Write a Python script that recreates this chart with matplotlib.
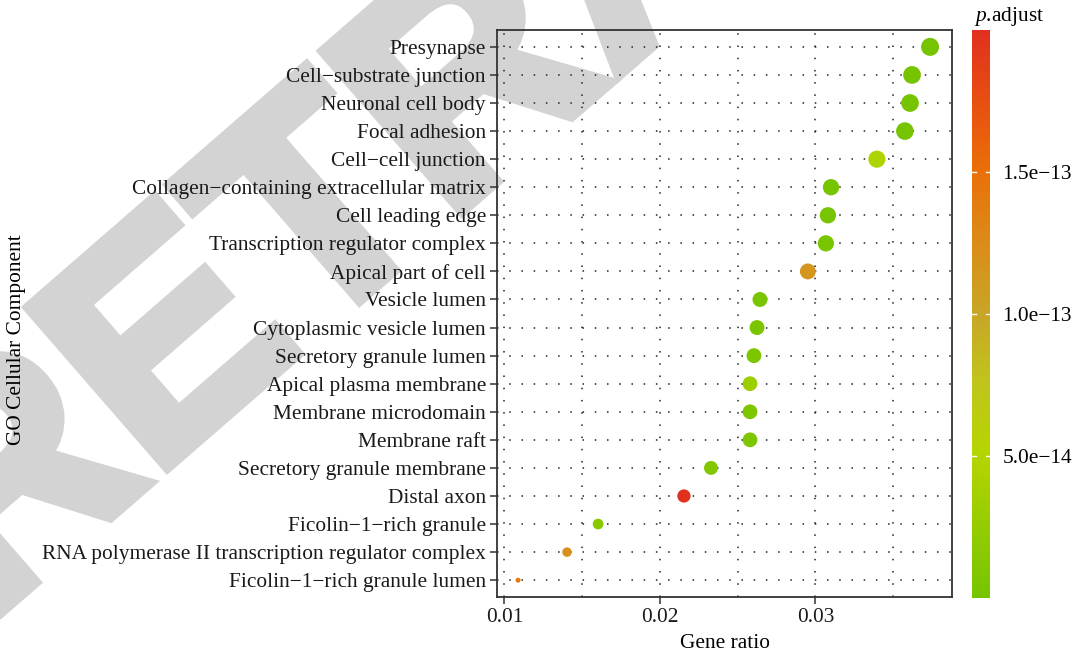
import numpy as np
import matplotlib
matplotlib.use('Agg')
import matplotlib.pyplot as plt
import matplotlib.patheffects as pe
from matplotlib.colors import LinearSegmentedColormap, Normalize

# GO cellular component terms, top to bottom
terms = [
    'Presynapse', 'Cell\u2212substrate junction', 'Neuronal cell body',
    'Focal adhesion', 'Cell\u2212cell junction',
    'Collagen\u2212containing extracellular matrix', 'Cell leading edge',
    'Transcription regulator complex', 'Apical part of cell',
    'Vesicle lumen', 'Cytoplasmic vesicle lumen', 'Secretory granule lumen',
    'Apical plasma membrane', 'Membrane microdomain', 'Membrane raft',
    'Secretory granule membrane', 'Distal axon', 'Ficolin\u22121\u2212rich granule',
    'RNA polymerase II transcription regulator complex',
    'Ficolin\u22121\u2212rich granule lumen',
]
gene_ratio = [0.03738, 0.03622, 0.03609, 0.03576, 0.03396, 0.03101, 0.03081,
              0.03068, 0.02952, 0.02644, 0.02625, 0.02605, 0.02580, 0.02580,
              0.02580, 0.02329, 0.02155, 0.01603, 0.01403, 0.01088]
p_adjust = [2e-17, 1e-16, 5e-17, 3e-16, 4.4e-14, 4e-16, 1e-15, 2e-15, 1.15e-13,
            3e-15, 4e-15, 5e-15, 3.2e-14, 6e-15, 7e-15, 1.0e-14, 1.99e-13,
            1.5e-14, 1.2e-13, 1.4e-13]
cbar_ticks = [5e-14, 1e-13, 1.5e-13]
cbar_labels = ['5.0e\u221214', '1.0e\u221213', '1.5e\u221213']

plt.rcParams['font.family'] = ['Liberation Serif', 'DejaVu Serif']
plt.rcParams['mathtext.fontset'] = 'custom'
plt.rcParams['mathtext.it'] = 'Liberation Serif:italic'
plt.rcParams['mathtext.rm'] = 'Liberation Serif'

cmap = LinearSegmentedColormap.from_list('padj', [
    (0.0, '#76c400'), (0.257, '#b6d500'), (0.38, '#c0c41c'),
    (0.5, '#c8a526'), (0.61, '#d98f1a'), (0.75, '#ea7008'),
    (0.87, '#e85010'), (1.0, '#e0301e')])
norm = Normalize(vmin=0, vmax=2.0e-13)

dpi = 100
fs = 15.4
fig = plt.figure(figsize=(10.74, 6.63), dpi=dpi)
ax = fig.add_axes([0.4628, 0.0995, 0.4236, 0.8552])
ax.set_facecolor('none')

# watermark
wm = fig.text(0.60, 1.08, 'RETRACTED', fontsize=220, fontweight='bold',
              family='Liberation Sans', color='#d3d3d3', rotation=41,
              ha='center', va='center', zorder=-5)
wm.set_path_effects([pe.withStroke(linewidth=9, foreground='#d3d3d3',
                                   joinstyle='miter')])

y = np.arange(len(terms))[::-1]
gr = np.array(gene_ratio)
t = (gr - gr.min()) / (gr.max() - gr.min())
diam_px = 5 + 13 * np.sqrt(t)
sizes = (diam_px * 72 / dpi) ** 2
ax.scatter(gr, y, s=sizes, c=p_adjust, cmap=cmap, norm=norm,
           edgecolors='none', zorder=3)

ax.set_xlim(0.00953, 0.03879)
ax.set_ylim(-0.6, len(terms) - 0.4)
ax.set_yticks(y)
ax.set_yticklabels(terms)
ax.set_xticks([0.01, 0.02, 0.03])
ax.set_xticklabels(['0.01', '0.02', '0.03'])
ax.set_xticks([0.015, 0.025, 0.035], minor=True)

grid_kw = dict(color='#222222', linestyle=(0, (1, 7)), linewidth=1.1)
ax.grid(True, which='major', axis='both', **grid_kw)
ax.grid(True, which='minor', axis='x', **grid_kw)
ax.set_axisbelow(True)

for s in ax.spines.values():
    s.set_color('#333333')
    s.set_linewidth(1.3)
ax.tick_params(axis='both', which='major', length=5, width=1.1,
               color='#333333', labelsize=fs, labelcolor='#1a1a1a', pad=3)
ax.tick_params(axis='x', which='minor', length=0)

ax.set_xlabel('Gene ratio', fontsize=fs, labelpad=5)
fig.text(0.015, 0.487, 'GO Cellular Component', rotation=90, fontsize=fs,
         ha='center', va='center')

# colorbar
cax = fig.add_axes([0.905, 0.098, 0.0168, 0.8567])
sm = plt.cm.ScalarMappable(cmap=cmap, norm=norm)
cb = fig.colorbar(sm, cax=cax)
cb.outline.set_visible(False)
cb.set_ticks(cbar_ticks)
cb.set_ticklabels(cbar_labels)
cax.minorticks_off()
cax.tick_params(which='both', length=0, labelsize=fs, pad=9)
for v in cbar_ticks:
    cax.axhline(v, xmin=0, xmax=0.22, color='white', lw=1)
    cax.axhline(v, xmin=0.78, xmax=1, color='white', lw=1)
fig.text(0.9065, 0.958, r'$\it{p}$' + '.adjust', fontsize=fs, ha='left',
         va='bottom')

fig.savefig('out.png', dpi=dpi)
